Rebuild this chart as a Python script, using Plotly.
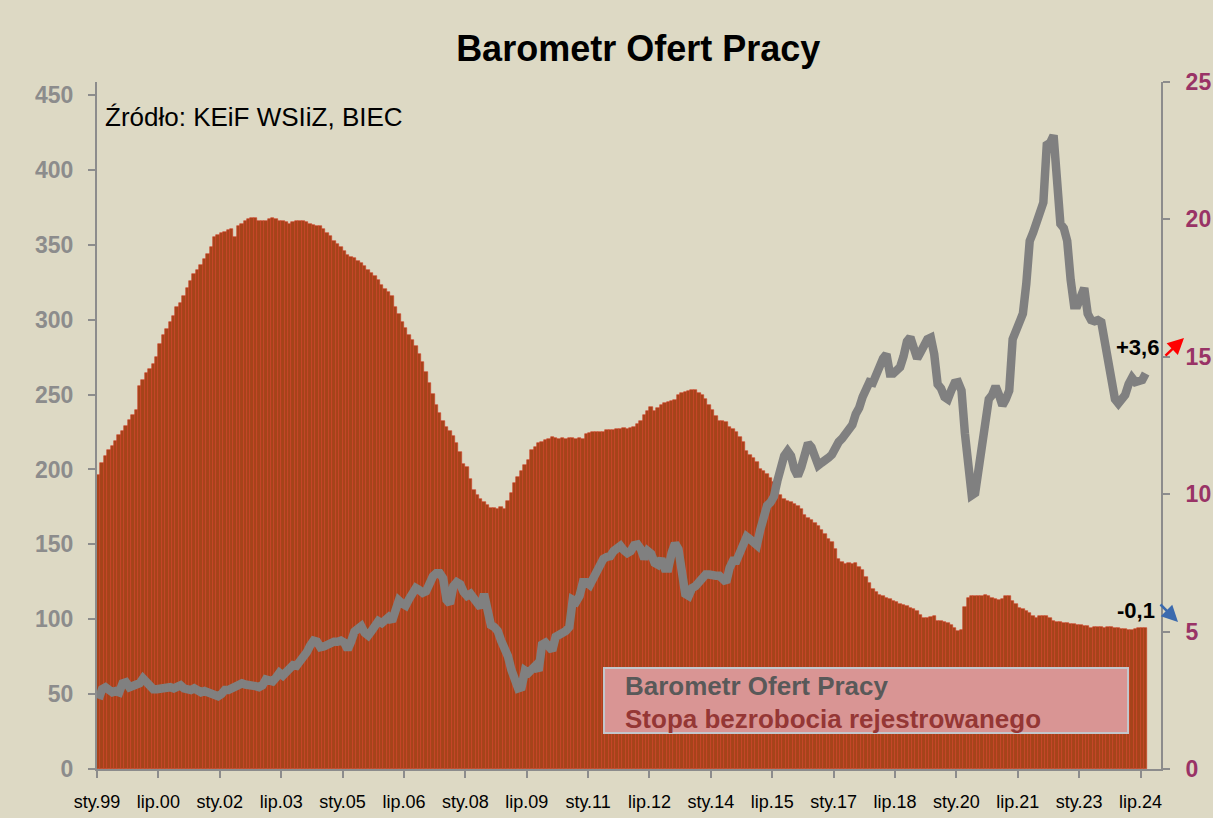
import plotly.graph_objects as go

# ---------------- data ----------------
tick_labels = ['sty.99', 'lip.00', 'sty.02', 'lip.03', 'sty.05', 'lip.06', 'sty.08', 'lip.09',
               'sty.11', 'lip.12', 'sty.14', 'lip.15', 'sty.17', 'lip.18', 'sty.20', 'lip.21',
               'sty.23', 'lip.24']

# Stopa bezrobocia rejestrowanego (%), monthly, right axis
unemp_1999 = [10.7, 11.15, 11.4, 11.6, 11.75, 11.95, 12.15, 12.3, 12.5, 12.7, 12.9, 13.05]
unemp_2000 = [13.95, 14.15, 14.4, 14.55, 14.75, 15.0, 15.45, 15.8, 16.0, 16.25, 16.5, 16.8]
unemp_2001 = [16.95, 17.2, 17.5, 17.75, 18.0, 18.15, 18.35, 18.55, 18.75, 19.0, 19.35, 19.45]
unemp_2002 = [19.5, 19.55, 19.6, 19.65, 19.35, 19.75, 19.85, 19.95, 20.0, 20.05, 20.05, 19.95]
unemp_2003 = [19.95, 19.95, 20.0, 20.05, 20.0, 19.95, 19.95, 19.9, 19.85, 19.9, 19.95, 19.95]
unemp_2004 = [19.95, 19.9, 19.85, 19.8, 19.75, 19.75, 19.65, 19.5, 19.4, 19.2, 19.1, 19.0]
unemp_2005 = [18.85, 18.7, 18.65, 18.6, 18.5, 18.4, 18.3, 18.15, 18.05, 17.95, 17.8, 17.6]
unemp_2006 = [17.45, 17.35, 17.2, 16.8, 16.55, 16.25, 16.05, 15.8, 15.6, 15.4, 15.1, 14.8]
unemp_2007 = [14.45, 14.05, 13.65, 13.25, 12.95, 12.65, 12.45, 12.3, 12.1, 11.85, 11.55, 11.1]
unemp_2008 = [10.98, 10.55, 10.16, 9.96, 9.82, 9.70, 9.59, 9.49, 9.49, 9.45, 9.52, 9.45]
unemp_2009 = [9.77, 10.06, 10.41, 10.62, 10.84, 11.05, 11.26, 11.61, 11.73, 11.86, 11.9, 11.97]
unemp_2010 = [12.01, 12.07, 12.04, 12.0, 12.04, 12.0, 12.03, 12.04, 12.0, 12.04, 12.0, 12.18]
unemp_2011 = [12.22, 12.25, 12.25, 12.28, 12.28, 12.32, 12.32, 12.35, 12.39, 12.39, 12.42, 12.39]
unemp_2012 = [12.42, 12.44, 12.54, 12.65, 12.89, 13.03, 13.17, 13.03, 13.13, 13.24, 13.31, 13.36]
unemp_2013 = [13.39, 13.41, 13.6, 13.67, 13.73, 13.74, 13.78, 13.81, 13.67, 13.6, 13.46, 13.24]
unemp_2014 = [13.07, 12.85, 12.68, 12.65, 12.61, 12.46, 12.39, 12.25, 12.08, 11.9, 11.57, 11.44]
unemp_2015 = [11.33, 11.19, 10.93, 10.84, 10.72, 10.58, 10.44, 10.13, 9.96, 9.84, 9.77, 9.70]
unemp_2016 = [9.63, 9.56, 9.45, 9.25, 9.14, 9.07, 8.95, 8.85, 8.71, 8.54, 8.36, 8.25]
unemp_2017 = [8.02, 7.63, 7.52, 7.47, 7.5, 7.47, 7.5, 7.36, 7.24, 7.0, 6.77, 6.54]
unemp_2018 = [6.43, 6.35, 6.31, 6.23, 6.18, 6.12, 6.07, 6.0, 5.95, 5.92, 5.87, 5.81]
unemp_2019 = [5.76, 5.61, 5.5, 5.5, 5.53, 5.56, 5.4, 5.37, 5.34, 5.3, 5.25, 5.14]
unemp_2020 = [5.03, 5.06, 5.9, 6.23, 6.31, 6.31, 6.28, 6.31, 6.34, 6.31, 6.23, 6.18]
unemp_2021 = [6.15, 6.18, 6.28, 6.31, 6.12, 6.0, 5.87, 5.81, 5.76, 5.69, 5.56, 5.48]
unemp_2022 = [5.56, 5.57, 5.56, 5.5, 5.4, 5.34, 5.34, 5.31, 5.3, 5.28, 5.28, 5.25]
unemp_2023 = [5.25, 5.22, 5.19, 5.14, 5.17, 5.17, 5.17, 5.14, 5.17, 5.17, 5.14, 5.12]
unemp_2024 = [5.11, 5.09, 5.06, 5.06, 5.09, 5.14, 5.14, 5.12]

# Barometr Ofert Pracy, monthly, left axis
bop_1999 = [46.8, 53.3, 54.6, 52.7, 51.2, 52.0, 51.2, 57.2, 57.9, 54.6, 55.3, 55.9]
bop_2000 = [57.2, 60.5, 57.9, 54.6, 53.3, 53.3, 53.8, 54.6, 53.8, 54.6, 53.8, 54.6]
bop_2001 = [55.9, 53.8, 52.7, 52.7, 53.8, 52.0, 51.2, 52.0, 51.2, 50.7, 50.1, 48.6]
bop_2002 = [50.1, 52.7, 52.7, 53.8, 55.3, 57.2, 57.2, 56.4, 56.4, 55.9, 55.3, 54.6]
bop_2003 = [55.9, 59.8, 58.5, 58.5, 61.1, 64.2, 62.4, 65.0, 67.6, 69.4, 68.9, 71.4]
bop_2004 = [75.3, 77.9, 82.4, 85.7, 85.0, 81.3, 81.8, 83.1, 83.9, 85.0, 85.0, 85.7]
bop_2005 = [84.4, 79.8, 85.0, 91.7, 93.5, 95.3, 90.9, 89.1, 92.2, 95.3, 98.7, 97.4]
bop_2006 = [100.0, 101.3, 98.7, 107.8, 112.5, 110.4, 109.1, 113.5, 118.2, 120.8, 119.5, 117.7]
bop_2007 = [118.7, 124.7, 128.6, 130.7, 130.7, 127.3, 113.0, 110.4, 122.1, 124.7, 123.4, 118.2]
bop_2008 = [115.6, 116.9, 114.3, 110.4, 107.8, 116.9, 107.8, 96.1, 94.8, 92.2, 85.7, 81.8]
bop_2009 = [75.3, 66.3, 57.2, 53.8, 54.6, 65.7, 64.2, 67.5, 68.8, 65.7, 83.1, 84.4]
bop_2010 = [82.4, 79.2, 88.3, 89.1, 90.2, 92.2, 94.8, 113.0, 111.7, 115.6, 124.7, 124.7]
bop_2011 = [122.9, 127.3, 131.2, 135.1, 140.3, 141.6, 142.1, 145.5, 148.1, 148.9, 146.0, 144.2]
bop_2012 = [145.5, 149.4, 149.9, 146.8, 140.3, 145.5, 143.7, 137.7, 136.4, 140.3, 133.8, 133.8]
bop_2013 = [144.2, 150.7, 146.8, 126.0, 116.9, 115.6, 120.8, 122.1, 124.7, 127.3, 129.9, 129.9]
bop_2014 = [129.1, 129.1, 129.1, 126.0, 124.7, 134.3, 139.0, 139.0, 144.2, 150.7, 155.1, 153.3]
bop_2015 = [150.7, 149.4, 159.8, 168.1, 175.9, 178.0, 181.9, 192.3, 201.4, 209.1, 212.3, 209.1]
bop_2016 = [200.1, 195.6, 201.4, 211.7, 217.5, 214.9, 207.1, 202.7, 204.5, 207.1, 207.8, 209.9]
bop_2017 = [215.0, 218.4, 220.7, 224.1, 227.5, 229.8, 237.0, 241.2, 248.4, 252.7, 258.3, 257.8]
bop_2018 = [264.0, 269.2, 274.1, 276.9, 264.0, 264.0, 265.5, 268.3, 275.5, 285.5, 288.3, 279.7]
bop_2019 = [274.1, 278.3, 284.0, 286.9, 288.0, 276.9, 256.9, 254.1, 248.4, 246.9, 252.7, 257.8]
bop_2020 = [258.3, 252.7, 224.1, 195.6, 182.7, 184.2, 201.3, 218.4, 238.4, 246.9, 249.8, 255.5]
bop_2021 = [249.8, 242.7, 246.9, 252.7, 286.9, 292.6, 295.4, 304.0, 324.0, 352.5, 358.2, 365.3]
bop_2022 = [375.3, 378.2, 416.7, 418.1, 423.0, 386.7, 364.0, 361.1, 352.5, 326.8, 309.7, 309.7]
bop_2023 = [316.8, 321.1, 304.0, 299.7, 298.9, 299.7, 298.3, 286.9, 272.6, 258.3, 246.9, 244.1]
bop_2024 = [246.9, 249.8, 256.9, 261.2, 258.3, 259.7, 259.7, 264.0]

unemployment = (unemp_1999 + unemp_2000 + unemp_2001 + unemp_2002 + unemp_2003 + unemp_2004 +
                unemp_2005 + unemp_2006 + unemp_2007 + unemp_2008 + unemp_2009 + unemp_2010 +
                unemp_2011 + unemp_2012 + unemp_2013 + unemp_2014 + unemp_2015 + unemp_2016 +
                unemp_2017 + unemp_2018 + unemp_2019 + unemp_2020 + unemp_2021 + unemp_2022 +
                unemp_2023 + unemp_2024)
barometr = (bop_1999 + bop_2000 + bop_2001 + bop_2002 + bop_2003 + bop_2004 + bop_2005 +
            bop_2006 + bop_2007 + bop_2008 + bop_2009 + bop_2010 + bop_2011 + bop_2012 +
            bop_2013 + bop_2014 + bop_2015 + bop_2016 + bop_2017 + bop_2018 + bop_2019 +
            bop_2020 + bop_2021 + bop_2022 + bop_2023 + bop_2024)

n_months = len(unemployment)
x_month = [i + 0.5 for i in range(n_months)]          # month slots (Jan 1999 = slot 0)
tick_pos = [18 * k for k in range(len(tick_labels))]   # every 18 months

# ---------------- style ----------------
W, H = 1213, 818
L, R, T, B = 97, 1161, 82, 769
BG = '#DDD9C4'
SANS = 'Liberation Sans, Arial, sans-serif'


def px(xp):
    return (xp - L) / (R - L)


def py(yp):
    return (B - yp) / (B - T)


fig = go.Figure()

fig.add_trace(go.Bar(
    x=x_month, y=unemployment, width=1.0, yaxis='y',
    marker=dict(color='#A5441A', line=dict(color='#D03C25', width=0.6)),
    name='Stopa bezrobocia rejestrowanego'))

fig.add_trace(go.Scatter(
    x=x_month, y=barometr, yaxis='y2', mode='lines',
    line=dict(color='#808080', width=8.5, shape='linear'),
    name='Barometr Ofert Pracy'))

axis_line = dict(showline=True, linecolor='#8C8C8C', linewidth=2, showgrid=False,
                 zeroline=False, ticks='outside', ticklen=7, tickcolor='#8C8C8C', tickwidth=2)

fig.update_layout(
    width=W, height=H,
    margin=dict(l=L, r=W - R, t=T, b=H - B, autoexpand=False),
    paper_bgcolor=BG, plot_bgcolor=BG,
    showlegend=False, bargap=0,
    title=dict(text='Barometr Ofert Pracy', x=617 / W, y=1 - 48 / H,
               xref='paper', yref='container', xanchor='center', yanchor='middle',
               font=dict(family=SANS, size=36, color='#000000', weight='bold')),
    xaxis=dict(range=[0, 312], tickvals=tick_pos, ticktext=tick_labels,
               tickfont=dict(family=SANS, size=18, color='#000000'),
               ticklabelstandoff=8, **axis_line),
    yaxis=dict(side='right', range=[0, 25], tickvals=[0, 5, 10, 15, 20, 25],
               tickfont=dict(family=SANS, size=23, color='#993366', weight='bold'),
               ticklabelstandoff=11, **axis_line),
    yaxis2=dict(side='left', overlaying='y', range=[0, 450 * (B - T) / 674],
                tickvals=list(range(0, 451, 50)),
                tickfont=dict(family=SANS, size=23, color='#8C8C8C', weight='bold'),
                ticklabelstandoff=10, **axis_line),
)

# legend box (text-only, as in the original)
fig.add_shape(type='rect', xref='paper', yref='paper',
              x0=px(604), x1=px(1128), y0=py(733), y1=py(668),
              fillcolor='#D99594', line=dict(color='#C3C7CC', width=2), layer='above')
fig.add_annotation(xref='paper', yref='paper', x=px(623), y=py(686), xanchor='left',
                   yanchor='middle', showarrow=False, text='Barometr Ofert Pracy',
                   font=dict(family=SANS, size=26, color='#595959', weight='bold'))
fig.add_annotation(xref='paper', yref='paper', x=px(623), y=py(719), xanchor='left',
                   yanchor='middle', showarrow=False, text='Stopa bezrobocia rejestrowanego',
                   font=dict(family=SANS, size=26, color='#953735', weight='bold'))

# source
fig.add_annotation(xref='paper', yref='paper', x=px(103), y=py(117), xanchor='left',
                   yanchor='middle', showarrow=False, text='Źródło: KEiF WSIiZ, BIEC',
                   font=dict(family=SANS, size=26, color='#000000'))

# change labels
fig.add_annotation(xref='paper', yref='paper', x=px(1161), y=py(347), xanchor='right',
                   yanchor='middle', showarrow=False, text='+3,6',
                   font=dict(family=SANS, size=22, color='#000000', weight='bold'))
fig.add_annotation(xref='paper', yref='paper', x=px(1184), y=py(338), ax=-20, ay=19,
                   showarrow=True, text='', arrowcolor='#FF0000', arrowwidth=2.5,
                   arrowhead=2, arrowsize=1.3)
fig.add_annotation(xref='paper', yref='paper', x=px(1157), y=py(610), xanchor='right',
                   yanchor='middle', showarrow=False, text='-0,1',
                   font=dict(family=SANS, size=22, color='#000000', weight='bold'))
fig.add_annotation(xref='paper', yref='paper', x=px(1178), y=py(622), ax=-19, ay=-19,
                   showarrow=True, text='', arrowcolor='#3B6AAE', arrowwidth=2.5,
                   arrowhead=2, arrowsize=1.3)

fig.write_html('out.html', config={'displayModeBar': False},
               post_script="document.body.style.margin='0';document.body.style.padding='0';")
